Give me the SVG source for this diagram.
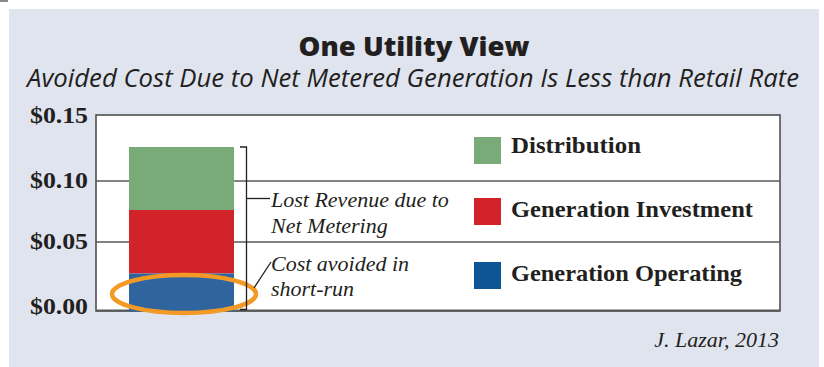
<svg xmlns="http://www.w3.org/2000/svg" width="824" height="367" viewBox="0 0 824 367">
  <style>
    .title { font-family: "Open Sans", "DejaVu Sans", sans-serif; font-weight: 800; font-size: 27px; fill: #231F20; }
    .subtitle { font-family: "Open Sans", "DejaVu Sans", sans-serif; font-style: italic; font-size: 25px; fill: #231F20; }
    .axis { font-family: "Liberation Serif", "DejaVu Serif", serif; font-weight: bold; font-size: 24px; fill: #231F20; text-anchor: end; }
    .legend { font-family: "Liberation Serif", "DejaVu Serif", serif; font-weight: bold; font-size: 23.5px; fill: #231F20; }
    .note { font-family: "Liberation Serif", "DejaVu Serif", serif; font-style: italic; font-size: 22px; fill: #231F20; }
    .grid { stroke: #5A5A5A; stroke-width: 1.5; fill: none; }
    .bracket { stroke: #231F20; stroke-width: 1.3; fill: none; }
  </style>

  <!-- page background and panel -->
  <rect x="0" y="0" width="824" height="367" fill="#FFFFFF"/>
  <rect x="0" y="0" width="8" height="2" fill="#8A8A8A"/>
  <rect x="9" y="9" width="810" height="358" fill="#E0E4EF"/>

  <!-- headings -->
  <g id="heading">
    <text class="title" x="414" y="56" text-anchor="middle" textLength="231" lengthAdjust="spacingAndGlyphs">One Utility View</text>
    <text class="subtitle" x="413" y="87" text-anchor="middle" textLength="772" lengthAdjust="spacingAndGlyphs">Avoided Cost Due to Net Metered Generation Is Less than Retail Rate</text>
  </g>

  <!-- plot area -->
  <g id="plot">
    <rect x="96" y="115" width="684" height="196" fill="#FFFFFF" stroke="#444444" stroke-width="1.5"/>
    <line class="grid" x1="96" y1="181" x2="780" y2="181"/>
    <line class="grid" x1="96" y1="242" x2="780" y2="242"/>
    <line x1="96" y1="310.5" x2="780" y2="310.5" stroke="#5A5A5A" stroke-width="2"/>
  </g>

  <!-- y axis labels -->
  <g id="y-axis">
    <text class="axis" x="88" y="123" textLength="58" lengthAdjust="spacingAndGlyphs">$0.15</text>
    <text class="axis" x="88" y="188" textLength="58" lengthAdjust="spacingAndGlyphs">$0.10</text>
    <text class="axis" x="88" y="249" textLength="58" lengthAdjust="spacingAndGlyphs">$0.05</text>
    <text class="axis" x="88" y="314" textLength="58" lengthAdjust="spacingAndGlyphs">$0.00</text>
  </g>

  <!-- stacked bar -->
  <g id="bar-distribution">
    <rect x="129" y="147" width="105" height="63" fill="#78AB78"/>
  </g>
  <g id="bar-generation-investment">
    <rect x="129" y="210" width="105" height="63.5" fill="#D2232B"/>
  </g>
  <g id="bar-generation-operating">
    <rect x="129" y="273.5" width="105" height="38" fill="#30649E"/>
  </g>

  <!-- short-run highlight -->
  <g id="highlight">
    <ellipse cx="184" cy="294" rx="72" ry="19" fill="none" stroke="#F39A26" stroke-width="4.5"/>
  </g>

  <!-- bracket and leader lines -->
  <g id="connectors">
    <polyline class="bracket" points="240,147 246.5,147 246.5,309.5 240,309.5"/>
    <line class="bracket" x1="246.5" y1="198.5" x2="270" y2="198.5"/>
    <line class="bracket" x1="254" y1="288" x2="271" y2="262"/>
  </g>

  <!-- annotations -->
  <g id="note-lost-revenue">
    <text class="note" x="271" y="207">Lost Revenue due to</text>
    <text class="note" x="271" y="233">Net Metering</text>
  </g>
  <g id="note-cost-avoided">
    <text class="note" x="271" y="271">Cost avoided in</text>
    <text class="note" x="271" y="296">short-run</text>
  </g>

  <!-- legend -->
  <g id="legend-distribution">
    <rect x="474" y="137" width="27" height="27" fill="#78AB78"/>
    <text class="legend" x="511" y="153" textLength="130" lengthAdjust="spacingAndGlyphs">Distribution</text>
  </g>
  <g id="legend-generation-investment">
    <rect x="474" y="198" width="27" height="27" fill="#D2232B"/>
    <text class="legend" x="511" y="217" textLength="242" lengthAdjust="spacingAndGlyphs">Generation Investment</text>
  </g>
  <g id="legend-generation-operating">
    <rect x="474" y="262" width="27" height="27" fill="#0E5595"/>
    <text class="legend" x="511" y="281" textLength="231" lengthAdjust="spacingAndGlyphs">Generation Operating</text>
  </g>

  <!-- credit -->
  <g id="credit">
    <text class="note" x="779" y="347" text-anchor="end" font-size="21">J. Lazar, 2013</text>
  </g>
</svg>
